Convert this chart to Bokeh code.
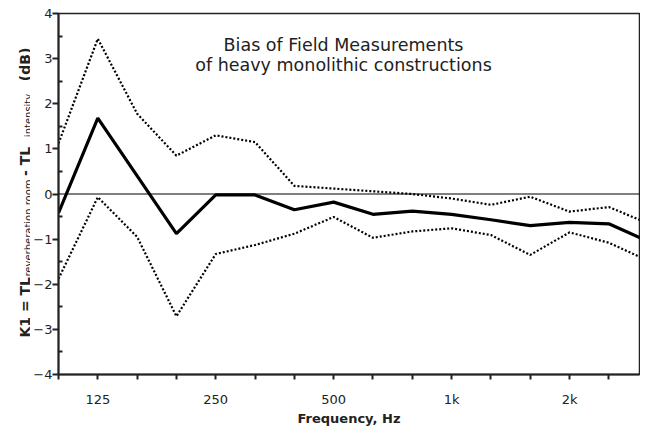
import math
from bokeh.plotting import figure
from bokeh.layouts import row
from bokeh.models import FixedTicker, Label, Span, Range1d
from bokeh.core.properties import value
from bokeh.embed import file_html
from bokeh.resources import INLINE

# 1/3-octave band centre frequencies (Hz)
bands = ["100", "125", "160", "200", "250", "315", "400", "500",
         "630", "800", "1000", "1250", "1600", "2000", "2500", "3150"]
tick_labels = {1: "125", 4: "250", 7: "500", 10: "1k", 13: "2k"}

# K1 bias (dB): mean and +/- bounds
mean_k1 = [-0.42, 1.68, 0.40, -0.88, -0.02, -0.02, -0.35, -0.18,
           -0.45, -0.38, -0.45, -0.57, -0.70, -0.63, -0.66, -1.05]
upper_k1 = [1.12, 3.44, 1.78, 0.85, 1.30, 1.15, 0.18, 0.12,
            0.06, 0.00, -0.10, -0.24, -0.06, -0.39, -0.29, -0.65]
lower_k1 = [-1.88, -0.07, -0.95, -2.71, -1.33, -1.13, -0.88, -0.51,
            -0.97, -0.83, -0.76, -0.91, -1.35, -0.85, -1.08, -1.48]

title_lines = ["Bias of Field Measurements", "of heavy monolithic constructions"]
ylabel_main = ["K1 = TL", "- TL", " (dB)"]
ylabel_sub = ["reverberation room", "intensity,"]

idx = list(range(len(bands)))
FONT = "DejaVu Sans"
TXT = "#222222"
H = 429
LW = 30  # width of the strip carrying the y-axis title

# ---- main chart ----
p = figure(width=640 - LW, height=H, output_backend="svg", toolbar_location=None,
           x_range=Range1d(0, 14.78), y_range=Range1d(-4, 4),
           min_border_left=58 - LW, min_border_right=1, min_border_top=13,
           min_border_bottom=55)
p.grid.visible = False
p.outline_line_color = "#222222"
p.outline_line_width = 1.5

p.line(idx, upper_k1, line_color="black", line_width=2.2, line_dash="2 2")
p.line(idx, lower_k1, line_color="black", line_width=2.2, line_dash="2 2")
p.line(idx, mean_k1, line_color="black", line_width=3.2)

p.add_layout(Span(location=0, dimension="width", line_color="black", line_width=1.2))

xa = p.xaxis[0]
xa.ticker = FixedTicker(ticks=idx)
xa.major_label_overrides = {i: tick_labels.get(i, "") for i in idx}
xa.major_tick_out = 5
xa.major_tick_in = 0
xa.minor_tick_out = 0
xa.major_tick_line_width = 2
xa.major_tick_line_color = "#222222"
xa.axis_line_width = 2
xa.axis_line_color = "#222222"
xa.major_label_text_font = FONT
xa.major_label_text_font_size = "13px"
xa.major_label_text_color = TXT
xa.major_label_standoff = 12
xa.axis_label = "Frequency, Hz"
xa.axis_label_text_font = FONT
xa.axis_label_text_font_size = "13px"
xa.axis_label_text_font_style = "bold"
xa.axis_label_text_color = TXT
xa.axis_label_standoff = 1

ya = p.yaxis[0]
yt = [-4, -3, -2, -1, 0, 1, 2, 3, 4]
ya.ticker = FixedTicker(ticks=yt, minor_ticks=[-3.5, -2.5, -1.5, -0.5, 0.5, 1.5, 2.5, 3.5])
ya.major_label_overrides = {t: (("\u2212" + str(-t)) if t < 0 else str(t)) for t in yt}
ya.major_tick_out = 6
ya.major_tick_in = 0
ya.minor_tick_out = 0
ya.minor_tick_in = 4
ya.major_tick_line_width = 2
ya.minor_tick_line_width = 2
ya.major_tick_line_color = "#222222"
ya.minor_tick_line_color = "#222222"
ya.axis_line_width = 2
ya.axis_line_color = "#222222"
ya.major_label_text_font = FONT
ya.major_label_text_font_size = "13px"
ya.major_label_text_color = TXT
ya.major_label_standoff = 0

for txt, yv in zip(title_lines, [3.30, 2.85]):
    p.add_layout(Label(x=7.25, y=yv, text=txt, text_align="center",
                       text_baseline="alphabetic", text_font=FONT,
                       text_font_size="17.5px", text_color=TXT))

# ---- strip with the rotated y-axis title ----
# its frame is aligned with the chart's frame, so it shares the chart's y scale
lab = figure(width=LW, height=H, output_backend="svg", toolbar_location=None,
             x_range=Range1d(0, LW), y_range=Range1d(-4, 4),
             x_axis_location=None, y_axis_location=None,
             min_border=0, outline_line_color=None)
lab.grid.visible = False
lab.text(x=[24.5, 24.5, 24.5], y=[-3.18, 0.40, 2.50], text=ylabel_main,
         angle=math.pi / 2, text_align="left", text_baseline="alphabetic",
         text_font=value(FONT), text_font_size="14px", text_font_style="bold",
         text_color=TXT)
lab.text(x=[27.5, 27.5], y=[-1.83, 1.26], text=ylabel_sub,
         angle=math.pi / 2, text_align="left", text_baseline="alphabetic",
         text_font=value(FONT), text_font_size="10px", text_color=TXT)

layout = row(lab, p, spacing=0)
open("out.html", "w").write(file_html(layout, INLINE))
